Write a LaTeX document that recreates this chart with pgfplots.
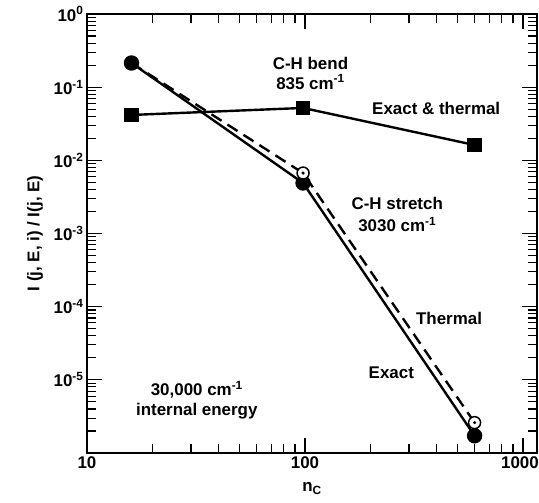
\documentclass[border=0pt]{standalone}
\usepackage{pgfplots}
\pgfplotsset{compat=1.18}
\usepackage{fontspec}
\setmainfont{Liberation Sans}
\newcommand{\lab}{\fontsize{17}{20}\selectfont\bfseries}
\begin{document}
\begin{tikzpicture}
\begin{axis}[
  xmode=log, ymode=log,
  scale only axis, width=450bp, height=439bp,
  xmin=10, xmax=1160, ymin=1e-6, ymax=1,
  axis line style={line width=1.4bp},
  tick style={line width=1.1bp, black},
  major tick length=15bp, minor tick length=9bp,
  tick align=inside,
  xtick={10,100,1000}, xticklabels={10,100,\hspace*{-6bp}1000},
  ytick={1e-6,1e-5,1e-4,1e-3,1e-2,1e-1,1},
  yticklabels={,10\textsuperscript{-5},10\textsuperscript{-4},10\textsuperscript{-3},10\textsuperscript{-2},10\textsuperscript{-1},10\textsuperscript{0}},
  ticklabel style={font=\lab},
  xlabel={n\textsubscript{C}},
  ylabel={I (j, E, i) / I(j, E)},
  label style={font=\lab},
  xlabel style={yshift=-7bp},
  ylabel style={yshift=4bp},
  clip=false,
]
% Exact & thermal (C-H bend)
\addplot[black, line width=2.4bp, mark=square*, mark size=6bp, mark options={solid}]
  coordinates {(16,0.0417) (98,0.052) (600,0.0162)};
% Thermal (dashed)
\addplot[black, line width=2.4bp, dash pattern=on 12bp off 7bp]
  coordinates {(16,0.214) (98,0.0067) (600,2.6e-6)};
% Exact (solid)
\addplot[black, line width=2.4bp, mark=*, mark size=6.5bp, mark options={solid}]
  coordinates {(16,0.214) (98,0.0049) (600,1.72e-6)};
% Thermal markers
\addplot[only marks, mark=*, mark size=6bp, mark options={solid, fill=white, draw=black, line width=1.5bp}]
  coordinates {(98,0.0067) (600,2.6e-6)};
\addplot[only marks, mark=*, mark size=1.4bp, mark options={solid, fill=black}]
  coordinates {(98,0.0067) (600,2.6e-6)};
\node[font=\lab, align=center] at (axis cs:106,0.156) {C-H bend\\835 cm\textsuperscript{-1}};
\node[font=\lab] at (axis cs:400,0.052) {Exact \& thermal};
\node[font=\lab, align=center] at (axis cs:265,0.0018) {C-H stretch\\[2bp]3030 cm\textsuperscript{-1}};
\node[font=\lab] at (axis cs:458,7.0e-5) {Thermal};
\node[font=\lab] at (axis cs:249,1.25e-5) {Exact};
\node[font=\lab, align=center] at (axis cs:31.9,5.3e-6) {30,000 cm\textsuperscript{-1}\\internal energy};
\end{axis}
\pgfresetboundingbox
\path[use as bounding box] (-87bp,-50bp) rectangle (452bp,453bp);
\end{tikzpicture}
\end{document}
